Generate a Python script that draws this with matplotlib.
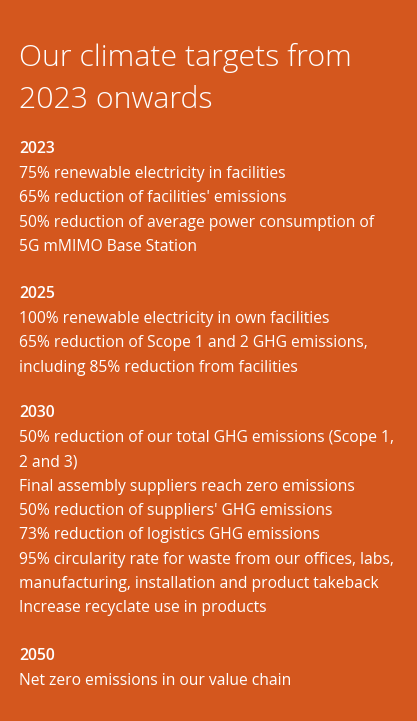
import matplotlib
matplotlib.use("Agg")
import matplotlib.pyplot as plt

title_lines = ["Our climate targets from", "2023 onwards"]
years = ["2023", "2025", "2030", "2050"]
targets = [
    ["75% renewable electricity in facilities",
     "65% reduction of facilities' emissions",
     "50% reduction of average power consumption of",
     "5G mMIMO Base Station"],
    ["100% renewable electricity in own facilities",
     "65% reduction of Scope 1 and 2 GHG emissions,",
     "including 85% reduction from facilities"],
    ["50% reduction of our total GHG emissions (Scope 1,",
     "2 and 3)",
     "Final assembly suppliers reach zero emissions",
     "50% reduction of suppliers' GHG emissions",
     "73% reduction of logistics GHG emissions",
     "95% circularity rate for waste from our offices, labs,",
     "manufacturing, installation and product takeback",
     "Increase recyclate use in products"],
    ["Net zero emissions in our value chain"],
]

W, H = 417, 721
fig = plt.figure(figsize=(W/100, H/100), dpi=100)
fig.patch.set_facecolor("#D4571E")
font = "Open Sans"
x = 19 / W

def put(ypx, s, size, weight="normal"):
    fig.text(x, 1 - ypx / H, s, color="white", fontsize=size, fontweight=weight,
             family=font, va="center", ha="left")

put(58, title_lines[0], 21.8, "light")
put(100, title_lines[1], 21.8, "light")

year_y = [149, 294, 413, 656]
line_step = 24.3
for yy, yr, lines in zip(year_y, years, targets):
    put(yy, yr, 11.3, "semibold")
    for i, l in enumerate(lines):
        put(yy + 25 + i * line_step, l, 11.25)

fig.savefig("out.png", dpi=100, facecolor=fig.get_facecolor())
